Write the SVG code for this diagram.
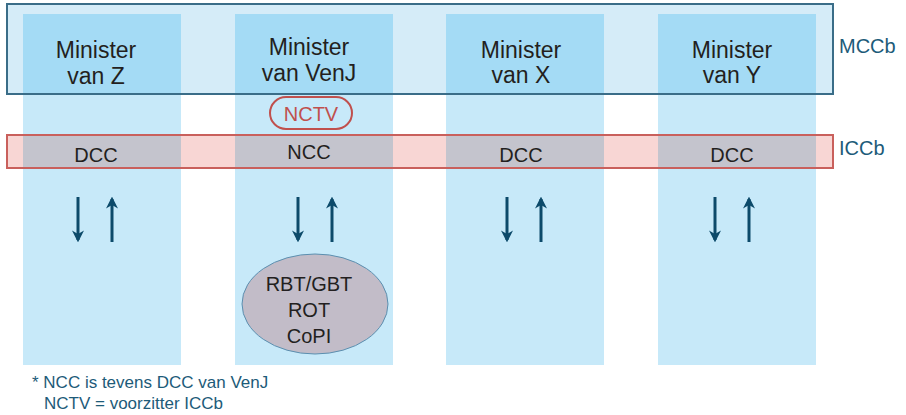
<svg xmlns="http://www.w3.org/2000/svg" width="906" height="415" viewBox="0 0 906 415">
<style>
.col{fill:#c7e9f9}
.top{fill:#a4dbf5}
.mid{fill:#c4c4cd}
.t{font-family:"Liberation Sans",Arial,sans-serif;font-size:23px;fill:#231f20;text-anchor:middle}
.s{font-family:"Liberation Sans",Arial,sans-serif;font-size:20px;fill:#231f20;text-anchor:middle}
.lbl{font-family:"Liberation Sans",Arial,sans-serif;font-size:20px;fill:#1d5b79}
.note{font-family:"Liberation Sans",Arial,sans-serif;font-size:17px;fill:#1d5b79}
.arr{stroke:#0c4a6a;stroke-width:3;fill:none}
</style>
<defs>
<marker id="ah" viewBox="0 0 10 10" refX="8" refY="5" markerWidth="4" markerHeight="4.5" orient="auto" markerUnits="strokeWidth">
<path d="M0,0 L10,5 L0,10 L3,5 Z" fill="#0c4a6a"/>
</marker>
</defs>
<rect width="906" height="415" fill="#fff"/>
<g id="bands-bg">
<rect x="7" y="4" width="826" height="90" fill="#d5ecf8"/>
<rect x="7" y="135" width="826" height="33" fill="#f8d6d4"/>
</g>
<g id="col-z">
<rect class="col" x="23" y="14" width="158" height="351"/>
<rect class="top" x="23" y="14" width="158" height="80"/>
<rect class="mid" x="23" y="135" width="158" height="33"/>
<text class="t" x="96" y="58">Minister</text>
<text class="t" x="96" y="84">van Z</text>
<text class="s" x="96" y="162">DCC</text>
</g>
<g id="col-venj">
<rect class="col" x="235" y="14" width="158" height="351"/>
<rect class="top" x="235" y="14" width="158" height="80"/>
<rect class="mid" x="235" y="135" width="158" height="33"/>
<text class="t" x="309" y="55">Minister</text>
<text class="t" x="309" y="81">van VenJ</text>
<text class="s" x="309" y="159">NCC</text>
</g>
<g id="col-x">
<rect class="col" x="446" y="14" width="158" height="351"/>
<rect class="top" x="446" y="14" width="158" height="80"/>
<rect class="mid" x="446" y="135" width="158" height="33"/>
<text class="t" x="521" y="58">Minister</text>
<text class="t" x="521" y="83">van X</text>
<text class="s" x="521" y="162">DCC</text>
</g>
<g id="col-y">
<rect class="col" x="658" y="14" width="158" height="351"/>
<rect class="top" x="658" y="14" width="158" height="80"/>
<rect class="mid" x="658" y="135" width="158" height="33"/>
<text class="t" x="732" y="58">Minister</text>
<text class="t" x="732" y="83">van Y</text>
<text class="s" x="732" y="162">DCC</text>
</g>
<g id="mccb">
<rect x="7" y="4" width="826" height="90" fill="none" stroke="#3a6d88" stroke-width="2"/>
<text class="lbl" x="839" y="53">MCCb</text>
</g>
<g id="iccb">
<rect x="7" y="135" width="826" height="33" fill="none" stroke="#c9605c" stroke-width="2"/>
<text class="lbl" x="839" y="155">ICCb</text>
</g>
<g id="nctv">
<rect x="270" y="97" width="82" height="32" rx="16" fill="none" stroke="#c0504d" stroke-width="2"/>
<text class="s" x="311" y="121" style="fill:#c0504d">NCTV</text>
</g>
<g id="teams">
<ellipse cx="315" cy="304" rx="73" ry="50" fill="#c2bcc8" stroke="#5b8fb0" stroke-width="1"/>
<text class="s" x="309" y="291">RBT/GBT</text>
<text class="s" x="309" y="317">ROT</text>
<text class="s" x="309" y="343">CoPI</text>
</g>
<g id="connectors">
<line class="arr" x1="78" y1="197" x2="78" y2="240" marker-end="url(#ah)"/>
<line class="arr" x1="112" y1="242" x2="112" y2="199" marker-end="url(#ah)"/>
<line class="arr" x1="298" y1="197" x2="298" y2="240" marker-end="url(#ah)"/>
<line class="arr" x1="332" y1="242" x2="332" y2="199" marker-end="url(#ah)"/>
<line class="arr" x1="507" y1="197" x2="507" y2="240" marker-end="url(#ah)"/>
<line class="arr" x1="541" y1="242" x2="541" y2="199" marker-end="url(#ah)"/>
<line class="arr" x1="715" y1="197" x2="715" y2="240" marker-end="url(#ah)"/>
<line class="arr" x1="749" y1="242" x2="749" y2="199" marker-end="url(#ah)"/>
</g>
<g id="footnote">
<text class="note" x="32" y="388">* NCC is tevens DCC van VenJ</text>
<text class="note" x="44" y="409">NCTV = voorzitter ICCb</text>
</g>
</svg>
